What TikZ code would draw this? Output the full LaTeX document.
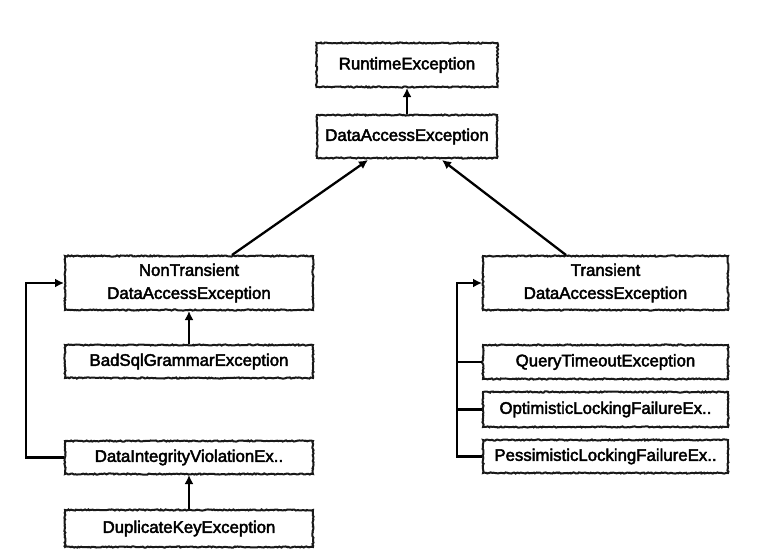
\documentclass[tikz,border=0pt]{standalone}
\usepackage{fontspec}
\setmainfont{Liberation Sans}[UprightFeatures={FakeBold=2.6}]
\usetikzlibrary{arrows.meta,decorations.pathmorphing,calc}
\begin{document}
\begin{tikzpicture}[x=1pt,y=-1pt,
  box/.style={draw=black!90, line width=2pt, fill=white,
    decorate, decoration={random steps, segment length=1.5pt, amplitude=0.6pt},
    inner sep=0pt, align=center,
    font=\fontsize{16.8}{23}\selectfont},
  conn/.style={line width=2.3pt, line join=miter},
  arr/.style={conn, -{Latex[length=9pt,width=9pt]}}]
\pgfmathsetseed{7}
\useasboundingbox (0,0) rectangle (781,554);
\node[box, minimum width=181pt, minimum height=44pt] (rt) at (407,65) {RuntimeException};
\node[box, minimum width=180pt, minimum height=43pt] (da) at (407,136.5) {DataAccessException};
\node[box, minimum width=248pt, minimum height=54pt] (nt) at (189,283) {NonTransient\\DataAccessException};
\node[box, minimum width=248pt, minimum height=33pt] (bs) at (189,361.5) {BadSqlGrammarException};
\node[box, minimum width=248pt, minimum height=33pt] (di) at (189,457.5) {DataIntegrityViolationEx..};
\node[box, minimum width=248pt, minimum height=37pt] (dk) at (189,528.5) {DuplicateKeyException};
\node[box, minimum width=245pt, minimum height=54pt] (tr) at (605.5,283) {Transient\\DataAccessException};
\node[box, minimum width=245pt, minimum height=34pt] (qt) at (605.5,362) {QueryTimeoutException};
\node[box, minimum width=245pt, minimum height=35pt] (ol) at (605.5,409.5) {OptimisticLockingFailureEx..};
\node[box, minimum width=245pt, minimum height=33pt] (pl) at (605.5,456.5) {PessimisticLockingFailureEx..};

\draw[arr] (da.north) -- (rt.south);
\draw[arr] ([xshift=168pt]nt.north west) -- ([xshift=-39pt,yshift=-1pt]da.south);
\draw[arr] ([xshift=84pt]tr.north west) -- ([xshift=35pt,yshift=-1pt]da.south);
\draw[arr] (bs.north) -- (nt.south);
\draw[arr] (dk.north) -- (di.south);
\draw[arr] (di.west) -- ++(-38,0) |- (nt.west);
\draw[arr] (pl.west) -- ++(-25,0) |- (tr.west);
\draw[conn] (qt.west) -- ++(-25,0);
\draw[conn] (ol.west) -- ++(-25,0);
\end{tikzpicture}
\end{document}
